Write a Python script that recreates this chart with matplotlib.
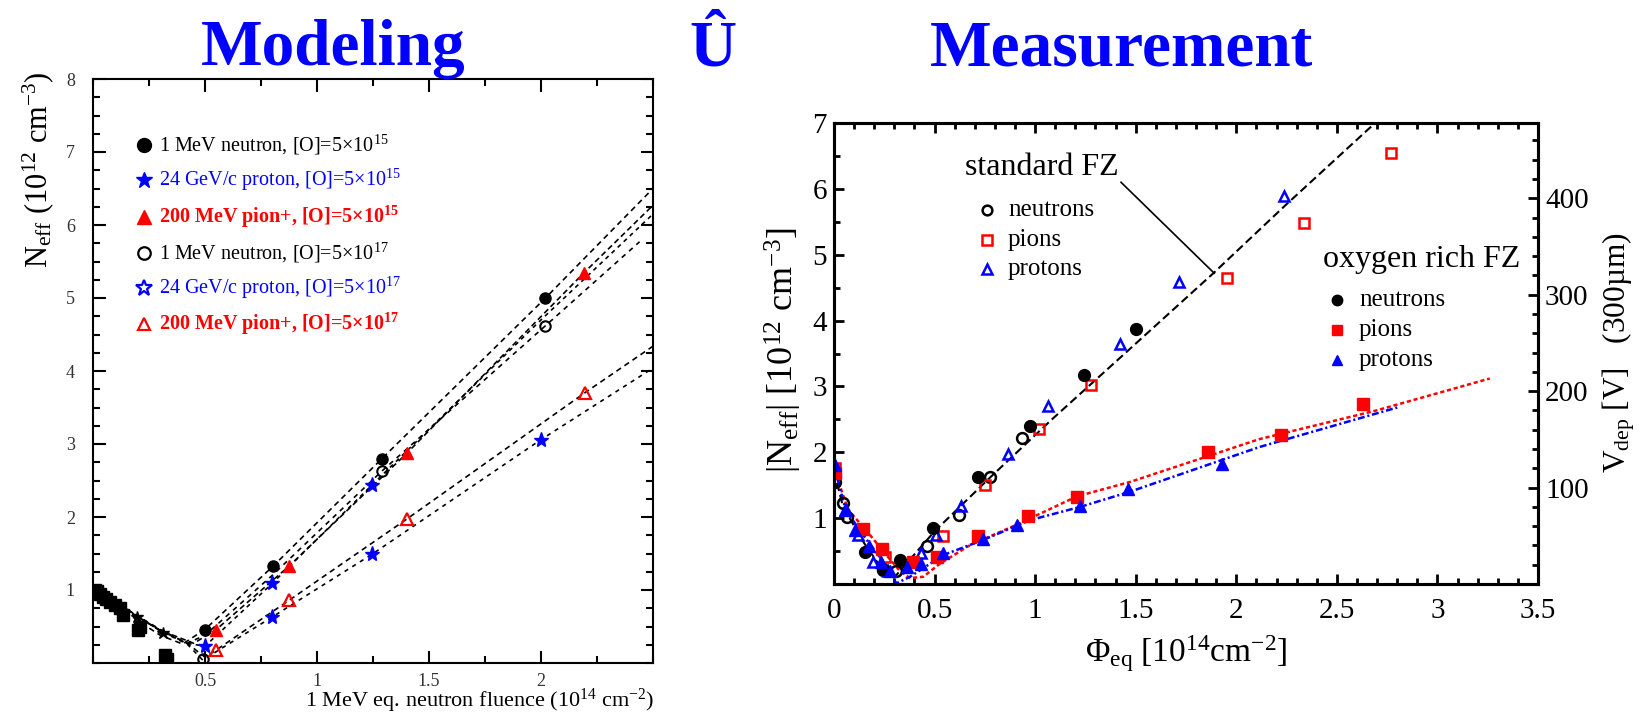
import matplotlib
matplotlib.use("Agg")
import matplotlib.pyplot as plt
from matplotlib.ticker import MultipleLocator

plt.rcParams["font.family"] = ["Liberation Serif", "DejaVu Serif"]
plt.rcParams["mathtext.fontset"] = "custom"
plt.rcParams["mathtext.rm"] = "Liberation Serif"
plt.rcParams["mathtext.it"] = "Liberation Serif:italic"
plt.rcParams["mathtext.bf"] = "Liberation Serif:bold"
plt.rcParams["lines.scale_dashes"] = False

### Left panel: model curves (1 MeV eq. fluence, Neff)
u1_x = [0, 0.1, 0.2, 0.3, 0.4, 0.5, 0.805, 1.29, 2.02, 2.5]
u1_y = [1.0, 0.8, 0.58, 0.38, 0.26, 0.46, 1.33, 2.8, 5.0, 6.5]
u2_x = [0, 0.15, 0.3, 0.42, 0.5, 0.8, 1.246, 2.0, 2.5]
u2_y = [0.99, 0.74, 0.44, 0.27, 0.23, 1.09, 2.44, 4.7, 6.15]
u3_x = [0, 0.15, 0.3, 0.45, 0.551, 0.876, 1.40, 2.19, 2.5]
u3_y = [0.98, 0.72, 0.45, 0.27, 0.46, 1.33, 2.87, 5.34, 6.27]
u4_x = [0, 0.15, 0.3, 0.42, 0.5, 0.8, 1.29, 2.02, 2.44]
u4_y = [1.0, 0.73, 0.46, 0.27, 0.38, 1.2, 2.63, 4.62, 5.77]
l1_x = [0, 0.15, 0.3, 0.42, 0.5, 0.551, 0.876, 1.40, 2.195, 2.5]
l1_y = [1.0, 0.74, 0.45, 0.27, 0.08, 0.18, 0.86, 1.97, 3.70, 4.34]
l2_x = [0, 0.15, 0.3, 0.42, 0.49, 0.6, 0.8, 1.246, 2.0, 2.5]
l2_y = [0.99, 0.73, 0.44, 0.26, 0.04, 0.25, 0.63, 1.49, 3.06, 4.04]

# left panel markers
n15_x = [0.5, 0.805, 1.29, 2.02]
n15_y = [0.457, 1.33, 2.8, 5.0]
p15_x = [0.5, 0.8, 1.246]
p15_y = [0.23, 1.09, 2.44]
pi15_x = [0.551, 0.876, 1.40, 2.19]
pi15_y = [0.457, 1.33, 2.87, 5.34]
n17_x = [0.49, 1.29, 2.02]
n17_y = [0.06, 2.63, 4.62]
p17_x = [0.8, 1.246, 2.0]
p17_y = [0.63, 1.49, 3.06]
pi17_x = [0.551, 0.876, 1.40, 2.195]
pi17_y = [0.18, 0.86, 1.97, 3.70]
low_x = [0.008, 0.016, 0.03, 0.046, 0.06, 0.076, 0.1, 0.12, 0.135, 0.2, 0.21, 0.32, 0.33]
low_y = [1.0, 0.98, 0.95, 0.91, 0.88, 0.84, 0.8, 0.75, 0.66, 0.45, 0.5, 0.11, 0.05]
lowstar_x = [0.195, 0.314]
lowstar_y = [0.63, 0.41]

left_legend = [
    ("1 MeV neutron, [O]=5×10$^{15}$", "black", "normal"),
    ("24 GeV/c proton, [O]=5×10$^{15}$", "blue", "normal"),
    ("200 MeV pion+, [O]=5×10$^{\\mathbf{15}}$", "red", "bold"),
    ("1 MeV neutron, [O]=5×10$^{17}$", "black", "normal"),
    ("24 GeV/c proton, [O]=5×10$^{17}$", "blue", "normal"),
    ("200 MeV pion+, [O]=5×10$^{\\mathbf{17}}$", "red", "bold"),
]
left_legend_y = [7.10, 6.62, 6.11, 5.62, 5.14, 4.64]

### Right panel: measurements
std_n_x = [0.005, 0.043, 0.066, 0.245, 0.31, 0.464, 0.623, 0.776, 0.933]
std_n_y = [1.55, 1.23, 1.02, 0.21, 0.19, 0.58, 1.05, 1.63, 2.21]
std_pi_x = [0.005, 0.254, 0.544, 0.751, 1.021, 1.278, 1.955, 2.339, 2.769]
std_pi_y = [1.76, 0.41, 0.73, 1.50, 2.36, 3.02, 4.64, 5.48, 6.55]
std_p_x = [0.005, 0.06, 0.121, 0.196, 0.27, 0.431, 0.507, 0.63, 0.867, 1.063,
           1.422, 1.714, 2.238]
std_p_y = [1.73, 1.12, 0.74, 0.34, 0.19, 0.47, 0.74, 1.18, 1.98, 2.70,
           3.64, 4.58, 5.89]
oxy_n_x = [0.154, 0.245, 0.328, 0.494, 0.718, 0.975, 1.241, 1.502]
oxy_n_y = [0.49, 0.23, 0.36, 0.85, 1.62, 2.40, 3.17, 3.87]
oxy_pi_x = [0.005, 0.146, 0.237, 0.391, 0.514, 0.718, 0.966, 1.21, 1.857,
            2.224, 2.631]
oxy_pi_y = [1.68, 0.83, 0.53, 0.34, 0.41, 0.73, 1.03, 1.32, 2.01, 2.26, 2.74]
oxy_p_x = [0.005, 0.055, 0.104, 0.176, 0.232, 0.278, 0.365, 0.431, 0.544,
           0.742, 0.912, 1.223, 1.463, 1.93]
oxy_p_y = [1.81, 1.12, 0.82, 0.58, 0.34, 0.19, 0.26, 0.31, 0.47, 0.69, 0.90,
           1.18, 1.45, 1.82]

# fits
std_fit_x = [0, 0.045, 0.15, 0.263, 0.30, 0.50, 0.77, 1.08, 1.5, 1.89, 2.244, 2.69]
std_fit_y = [1.72, 1.17, 0.62, 0.12, 0.1, 0.8, 1.6, 2.49, 3.65, 4.73, 5.75, 7.0]
oxy_pi_fit_x = [0, 0.07, 0.18, 0.26, 0.33, 0.378, 0.444, 0.527, 0.676, 0.908,
                1.207, 1.472, 2.115, 2.69, 3.26]
oxy_pi_fit_y = [1.75, 1.13, 0.74, 0.44, 0.19, 0.09, 0.11, 0.31, 0.59, 0.90,
                1.33, 1.55, 2.2, 2.63, 3.12]
oxy_p_fit_x = [0, 0.058, 0.163, 0.245, 0.31, 0.378, 0.544, 0.742, 0.975, 1.223,
               1.47, 2.115, 2.80]
oxy_p_fit_y = [1.8, 1.12, 0.67, 0.34, 0.01, 0.11, 0.44, 0.67, 0.97, 1.17,
               1.40, 2.08, 2.68]

vdep_per_neff = 68.3   # V per 1e12 cm^-3 for 300 um
vdep_ticks = [100, 200, 300, 400]

W, H = 1644, 712
fig = plt.figure(figsize=(W / 100, H / 100), dpi=100)

# titles
title_kw = dict(fontsize=47, fontweight="bold", color="blue", va="baseline")
fig.text(201 / W, 1 - 65 / H, "Modeling", **title_kw)
fig.text(689 / W, 1 - 65 / H, "Û", **title_kw)
fig.text(930 / W, 1 - 65 / H, "Measurement", **title_kw)

### Left panel
axl = fig.add_axes([93 / W, 49 / H, 560 / W, 584 / H])
dash = dict(color="black", lw=1.2)
axl.plot(u1_x, u1_y, dashes=(4, 3), **dash)
axl.plot(u2_x, u2_y, dashes=(3, 3), **dash)
axl.plot(u3_x, u3_y, dashes=(4, 2.5), **dash)
axl.plot(u4_x, u4_y, dashes=(3.5, 3.5), **dash)
axl.plot(l1_x, l1_y, dashes=(4, 3), **dash)
axl.plot(l2_x, l2_y, dashes=(3, 3.5), **dash)

axl.plot(low_x, low_y, "s", color="black", ms=8, ls="none")
axl.plot(lowstar_x, lowstar_y, "*", color="black", ms=9, ls="none")
axl.plot(n15_x, n15_y, "o", color="black", ms=8, ls="none")
axl.plot(p15_x, p15_y, "*", color="blue", ms=11, ls="none")
axl.plot(pi15_x, pi15_y, "^", color="red", ms=9, ls="none")
axl.plot(n17_x, n17_y, "o", mfc="none", mec="black", mew=1.5, ms=7.5, ls="none")
axl.plot(p17_x, p17_y, "*", color="blue", ms=11, ls="none")
axl.plot(pi17_x, pi17_y, "^", mfc="none", mec="red", mew=1.6, ms=9, ls="none")

leg_mk = [("o", "black", True), ("*", "blue", True), ("^", "red", True),
          ("o", "black", False), ("*", "blue", False), ("^", "red", False)]
for (txt, col, wt), yy, (m, mc, filled) in zip(left_legend, left_legend_y, leg_mk):
    if filled:
        axl.plot([0.228], [yy], m, color=mc, ms=10 if m != "*" else 12)
    else:
        axl.plot([0.228], [yy], m, mfc="none", mec=mc, mew=1.6,
                 ms=9 if m != "*" else 12)
    axl.text(0.295, yy, txt, color=col, fontweight=wt, fontsize=14.5,
             va="center", ha="left")

axl.set_xlim(0, 2.5)
axl.set_ylim(0, 8)
axl.xaxis.set_minor_locator(MultipleLocator(0.25))
axl.yaxis.set_minor_locator(MultipleLocator(0.25))
axl.set_xticks([0.5, 1, 1.5, 2])
axl.set_xticklabels(["0.5", "1", "1.5", "2"])
axl.set_yticks([1, 2, 3, 4, 5, 6, 7, 8])
axl.set_yticklabels(["1", "2", "3", "4", "5", "6", "7", "8"])
axl.tick_params(which="both", direction="in", top=True, right=True,
                width=1.5, labelsize=13, labelcolor="#333333")
axl.tick_params(which="major", length=9)
axl.tick_params(which="minor", length=5)
axl.tick_params(axis="y", pad=13)
axl.tick_params(axis="x", pad=7)
for s in axl.spines.values():
    s.set_linewidth(1.5)

fig.text(38 / W, 1 - 268 / H, "N$_{\\rm eff}$ (10$^{12}$ cm$^{-3}$)",
         rotation=90, ha="center", va="bottom", fontsize=22)
fig.text(654 / W, 5 / H, "1 MeV eq. neutron fluence (10$^{14}$ cm$^{-2}$)",
         ha="right", va="baseline", fontsize=16)

### Right panel
axr = fig.add_axes([834 / W, 128 / H, 704 / W, 461 / H])
axr.plot(std_fit_x, std_fit_y, color="black", lw=1.5, dashes=(6, 3))
axr.plot(oxy_pi_fit_x, oxy_pi_fit_y, color="red", lw=1.8, dashes=(3, 2))
axr.plot(oxy_p_fit_x, oxy_p_fit_y, color="blue", lw=1.8, dashes=(5, 2, 1.5, 2))
axr.plot([1.427, 1.89], [6.10, 4.72], color="black", lw=1.2)

op = dict(ls="none", mfc="none", mew=1.8, ms=7.8)
fl = dict(ls="none", ms=8.5)
axr.plot(std_n_x, std_n_y, "o", mec="black", **op)
axr.plot(std_pi_x, std_pi_y, "s", mec="red", **op)
axr.plot(std_p_x, std_p_y, "^", mec="blue", **op)
axr.plot(oxy_n_x, oxy_n_y, "o", color="black", **fl)
axr.plot(oxy_pi_x, oxy_pi_y, "s", color="red", **fl)
axr.plot(oxy_p_x, oxy_p_y, "^", color="blue", **fl)

axr.text(0.651, 6.33, "standard FZ", fontsize=23, va="center", ha="left")
std_leg_y = [5.68, 5.22, 4.79]
oxy_leg_y = [4.31, 3.86, 3.40]
names = ["neutrons", "pions", "protons"]
mks = ["o", "s", "^"]
cols = ["black", "red", "blue"]
for nm, m, c, yy in zip(names, mks, cols, std_leg_y):
    axr.plot([0.761], [yy], m, mec=c, mfc="none", mew=1.8, ms=7)
    axr.text(0.865, yy, nm, fontsize=18, va="center", ha="left")
axr.text(2.43, 4.92, "oxygen rich FZ", fontsize=23, va="center", ha="left")
for nm, m, c, yy in zip(names, mks, cols, oxy_leg_y):
    axr.plot([2.501], [yy], m, color=c, ms=7.5)
    axr.text(2.61, yy, nm, fontsize=18, va="center", ha="left")

axr.set_xlim(0, 3.5)
axr.set_ylim(0, 7)
axr.xaxis.set_minor_locator(MultipleLocator(0.1))
axr.yaxis.set_minor_locator(MultipleLocator(0.5))
axr.set_xticks([0, 0.5, 1, 1.5, 2, 2.5, 3, 3.5])
axr.set_xticklabels(["0", "0.5", "1", "1.5", "2", "2.5", "3", "3.5"])
axr.set_yticks([1, 2, 3, 4, 5, 6, 7])
axr.set_yticklabels(["1", "2", "3", "4", "5", "6", "7"])
axr.tick_params(which="both", direction="in", top=True, right=False,
                width=2, labelsize=21)
axr.tick_params(which="major", length=7)
axr.tick_params(which="minor", length=4.5)
axr.tick_params(axis="x", pad=10)
axr.tick_params(axis="y", pad=5)
for s in axr.spines.values():
    s.set_linewidth(2.2)

axv = axr.twinx()
axv.set_ylim(0, 7 * vdep_per_neff)
axv.set_yticks(vdep_ticks)
axv.set_yticklabels([str(v) for v in vdep_ticks])
axv.yaxis.set_minor_locator(MultipleLocator(20))
axv.tick_params(which="both", direction="in", width=2, labelsize=21, pad=5)
axv.tick_params(which="major", length=7)
axv.tick_params(which="minor", length=4.5)
for s in axv.spines.values():
    s.set_linewidth(2.2)

fig.text(783 / W, 1 - 350 / H, "|N$_{\\rm eff}$| [10$^{12}$ cm$^{-3}$]",
         rotation=90, ha="center", va="center", fontsize=26)
fig.text(1619 / W, 1 - 353 / H, "V$_{\\rm dep}$ [V]   (300µm)",
         rotation=90, ha="center", va="center", fontsize=22.5)
fig.text(1186 / W, 1 - 662 / H, "Φ$_{\\rm eq}$ [10$^{14}$cm$^{-2}$]",
         ha="center", va="baseline", fontsize=24)

fig.savefig("out.png", dpi=100)
plt.close(fig)
